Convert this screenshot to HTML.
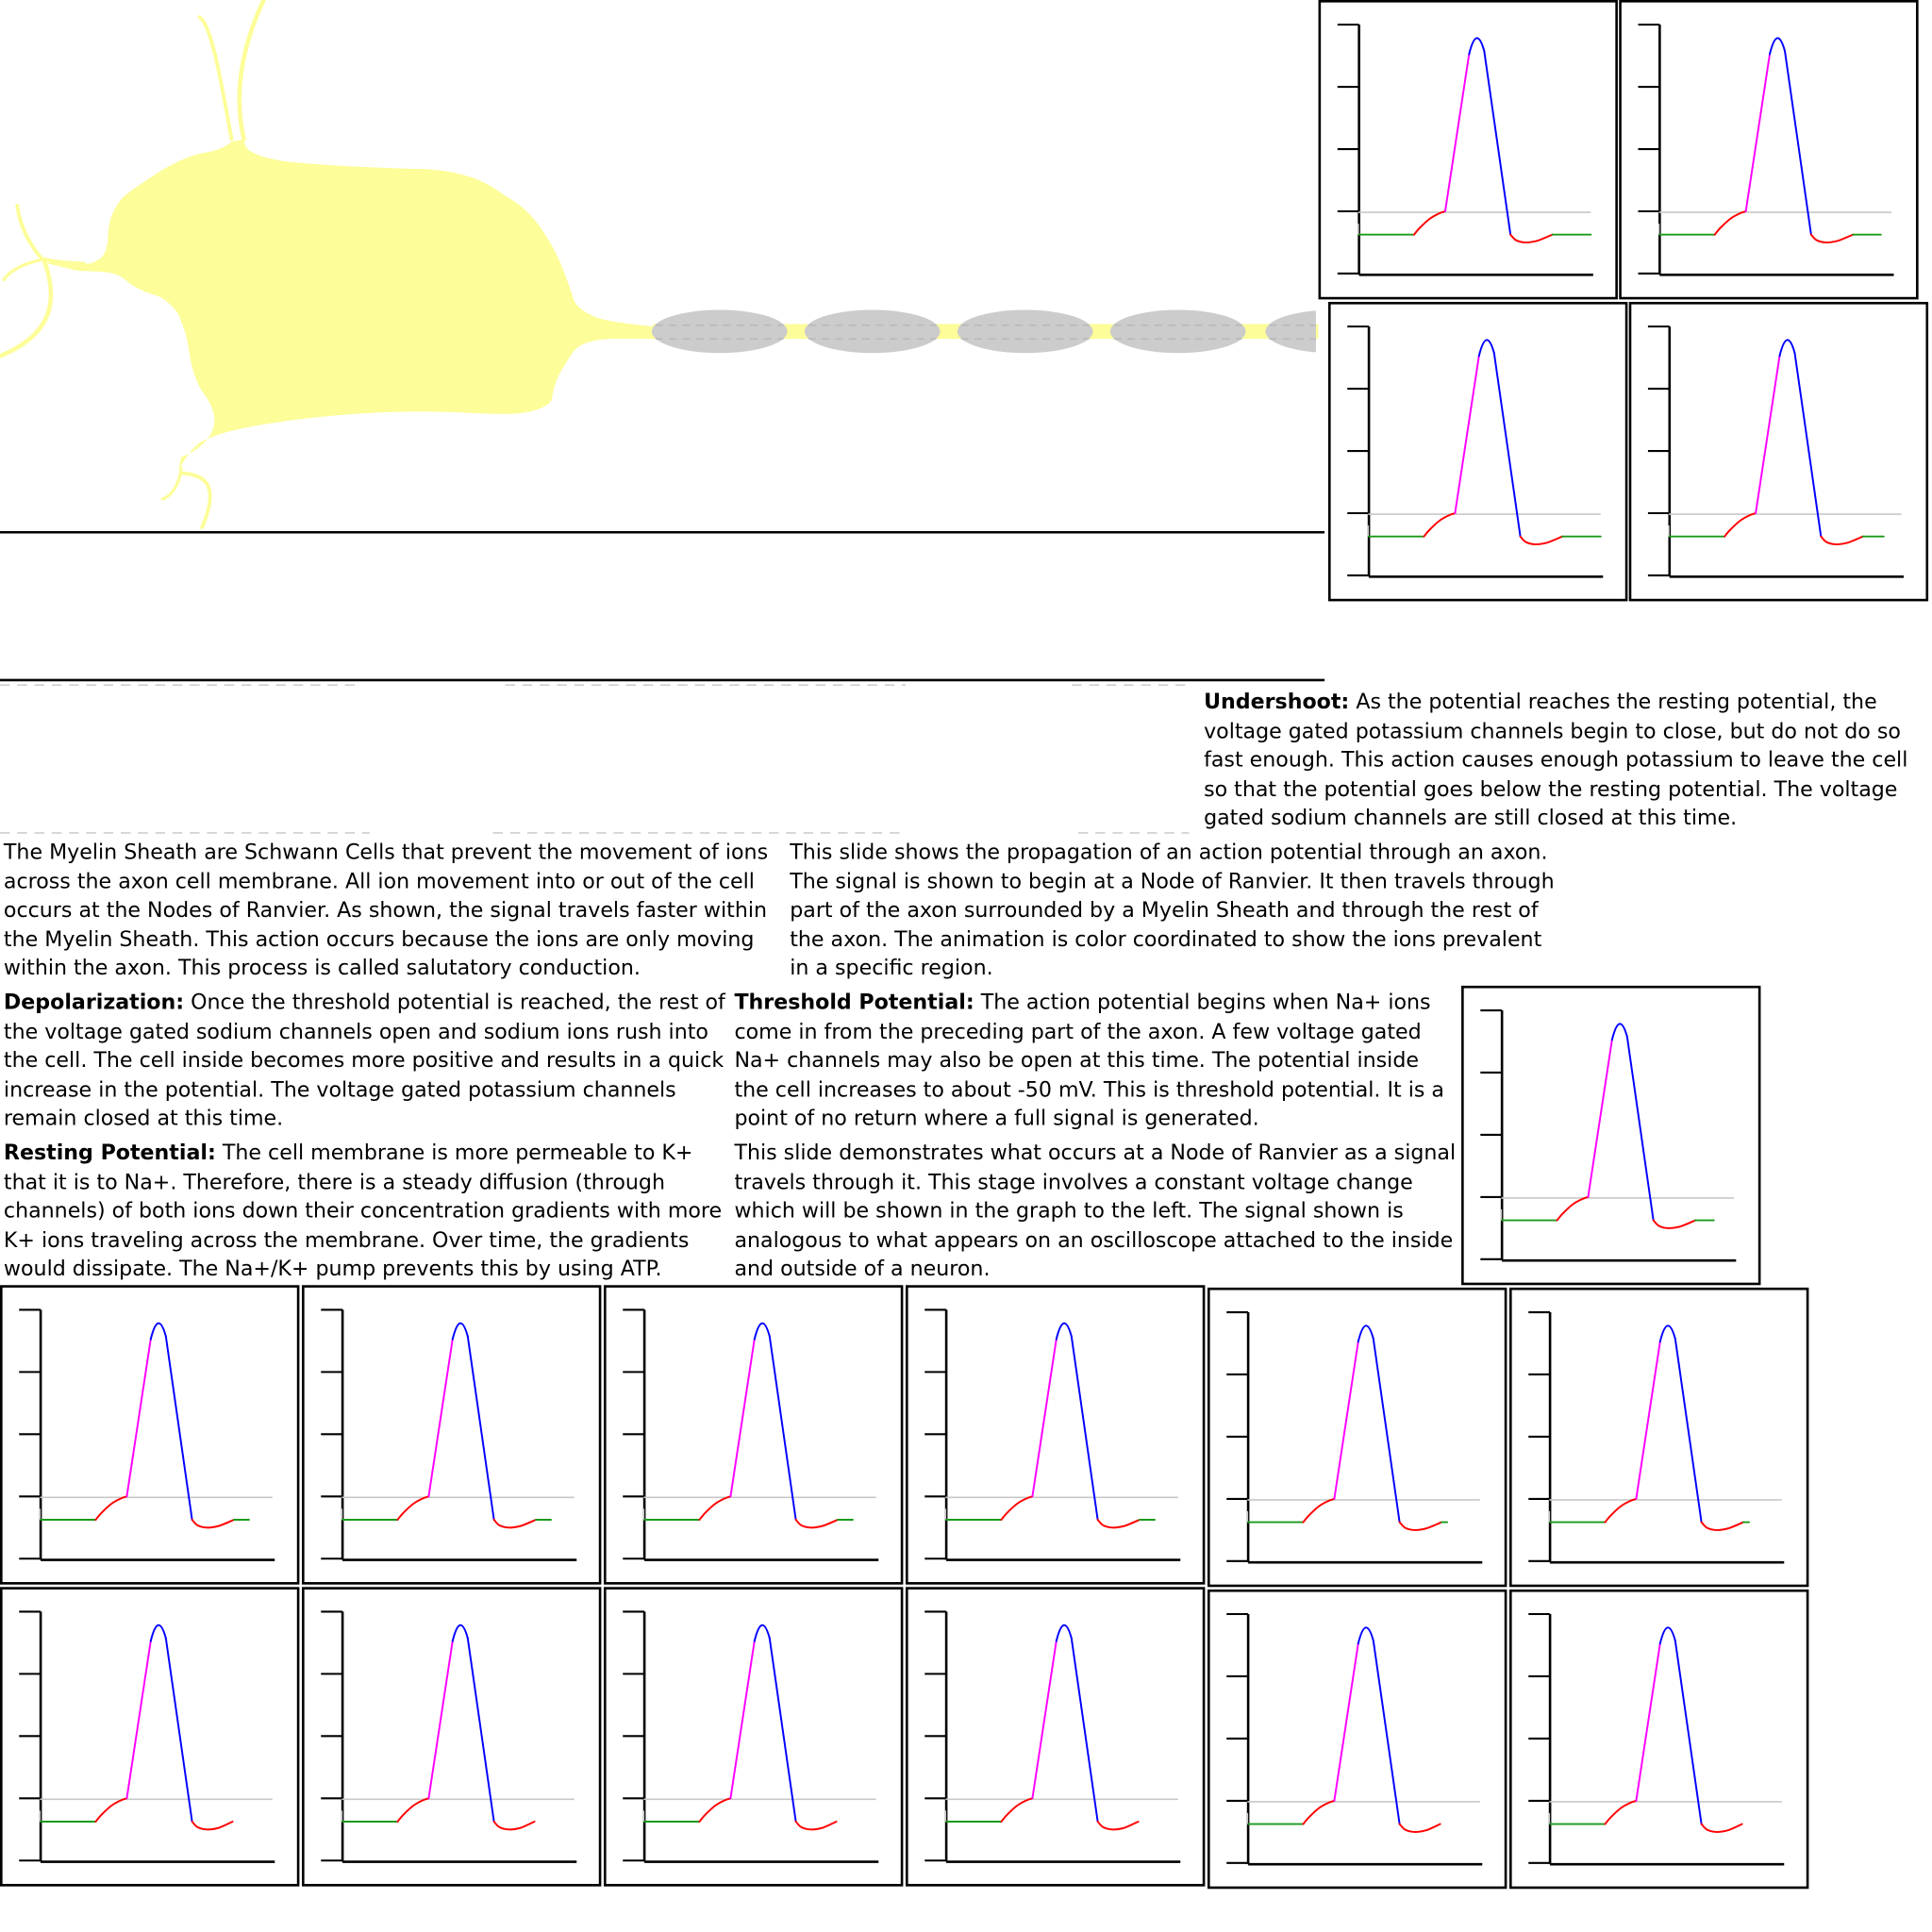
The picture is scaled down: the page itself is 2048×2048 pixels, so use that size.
<!DOCTYPE html>
<html><head><meta charset="utf-8">
<style>
html,body{margin:0;padding:0;background:#fff;}
body{width:2048px;height:2048px;overflow:hidden;position:relative;}
#stage{position:absolute;left:0;top:0;width:1568px;height:1568px;transform:scale(1.30612);transform-origin:0 0;}
.txt{position:absolute;font-family:"DejaVu Sans","Liberation Sans",sans-serif;font-size:16.95px;line-height:23.5px;color:#000;white-space:nowrap;}
.txt b{font-weight:bold;}
svg{position:absolute;left:0;top:0;}
</style></head>
<body>
<div id="stage">
<svg id="art" width="1568" height="1568" viewBox="0 0 1568 1568">
  <g fill="#fdfd99" stroke="none">
    <path d="M188,115 C180,122 170,123 161,125 C150,128 140,133 130,139 C115,149 104,156 99,161 C92,170 90,176 89,181 C87,190 88,198 87,198 C86,205 83,210 79,211 C75,214 72,214 68,214 C58,214 48,214 41,211 L39,214 C50,216 60,220 68,220 C80,220 88,221 92,222 C97,223 100,226 103,228 C112,236 122,238 130,241 C140,247 146,255 147,261 C152,272 153,282 154,289 C157,305 162,316 168,323 C172,330 174,336 174,340 C174,348 171,353 168,357 C160,366 150,370 147,371 L145,382 C150,372 155,365 161,360 C175,352 190,349 205,346 C250,338 300,334 342,334 C370,334 390,336 410,336 C430,336 445,331 448,324 C450,310 454,303 458,297 C463,288 467,282 472,280 C480,276 490,275 499,275 L536,275 L536,265 L530,265 C510,263 495,261 485,258 C472,253 466,247 465,241 C458,220 452,205 444,193 C435,178 425,167 410,159 C398,150 388,145 376,142 C362,138 348,137 335,137 C300,136 260,134 232,131 C218,129 208,126 202,122 C199,119 198,116 198,113 Z"/>
  </g>
  <g fill="none" stroke="#fdfd99" stroke-linecap="round">
    <path d="M162,14 C172,20 180,70 188,113" stroke-width="3"/>
    <path d="M214,0 C200,30 188,70 198,113" stroke-width="3.5"/>
    <path d="M14,167 C16,182 22,196 34,210 C50,214 60,213 68,214" stroke-width="3"/>
    <path d="M36,212 C46,240 46,270 0,289" stroke-width="3.5"/>
    <path d="M33,211 C18,214 8,220 3,227" stroke-width="2.5"/>
    <path d="M147,380 C146,392 140,402 132,405" stroke-width="2.5"/>
    <path d="M147,384 C168,385 178,395 164,428" stroke-width="3"/>
  </g>
  <rect x="530" y="263" width="540" height="12" fill="#fdfd99"/>
  <g id="sheaths"></g>
  <line x1="0" y1="432" x2="1075" y2="432" stroke="#000" stroke-width="2"/>
  <line x1="0" y1="552" x2="1075" y2="552" stroke="#000" stroke-width="2"/>
  <g stroke="#cfcfcf" stroke-width="1.3" stroke-dasharray="8,6">
    <line x1="0" y1="556" x2="290" y2="556"/>
    <line x1="410" y1="556" x2="735" y2="556"/>
    <line x1="870" y1="556" x2="965" y2="556"/>
    <line x1="0" y1="676" x2="300" y2="676"/>
    <line x1="400" y1="676" x2="735" y2="676"/>
    <line x1="875" y1="676" x2="965" y2="676"/>
  </g>
  <g id="panels"></g>
</svg>

<div class="txt" style="left:977px;top:558px;"><b>Undershoot:</b> As the potential reaches the resting potential, the<br>voltage gated potassium channels begin to close, but do not do so<br>fast enough. This action causes enough potassium to leave the cell<br>so that the potential goes below the resting potential. The voltage<br>gated sodium channels are still closed at this time.</div>

<div class="txt" style="left:3px;top:680px;">The Myelin Sheath are Schwann Cells that prevent the movement of ions<br>across the axon cell membrane. All ion movement into or out of the cell<br>occurs at the Nodes of Ranvier. As shown, the signal travels faster within<br>the Myelin Sheath. This action occurs because the ions are only moving<br>within the axon. This process is called salutatory conduction.</div>

<div class="txt" style="left:641px;top:680px;">This slide shows the propagation of an action potential through an axon.<br>The signal is shown to begin at a Node of Ranvier. It then travels through<br>part of the axon surrounded by a Myelin Sheath and through the rest of<br>the axon. The animation is color coordinated to show the ions prevalent<br>in a specific region.</div>

<div class="txt" style="left:3px;top:802px;"><b>Depolarization:</b> Once the threshold potential is reached, the rest of<br>the voltage gated sodium channels open and sodium ions rush into<br>the cell. The cell inside becomes more positive and results in a quick<br>increase in the potential. The voltage gated potassium channels<br>remain closed at this time.</div>

<div class="txt" style="left:596px;top:802px;"><b>Threshold Potential:</b> The action potential begins when Na+ ions<br>come in from the preceding part of the axon. A few voltage gated<br>Na+ channels may also be open at this time. The potential inside<br>the cell increases to about -50 mV. This is threshold potential. It is a<br>point of no return where a full signal is generated.</div>

<div class="txt" style="left:3px;top:924px;"><b>Resting Potential:</b> The cell membrane is more permeable to K+<br>that it is to Na+. Therefore, there is a steady diffusion (through<br>channels) of both ions down their concentration gradients with more<br>K+ ions traveling across the membrane. Over time, the gradients<br>would dissipate. The Na+/K+ pump prevents this by using ATP.</div>

<div class="txt" style="left:596px;top:924px;">This slide demonstrates what occurs at a Node of Ranvier as a signal<br>travels through it. This stage involves a constant voltage change<br>which will be shown in the graph to the left. The signal shown is<br>analogous to what appears on an oscilloscope attached to the inside<br>and outside of a neuron.</div>
</div>

<script>
// Waveform data (time units, membrane potential mV)
const yTicks = [-100, -60, -20, 20, 60];
const thresholdV = -60;
const restingV = -75;
const restT = [0, 23.5];
const riseT = [23.5, 26, 30, 34, 36.8];
const riseV = [-75, -70.5, -65, -61.5, -60];
const upT = [36.8, 47];
const upV = [-60, 41];
const peakT = [47, 50.2, 53.5];
const peakV = [41, 60.6, 43];
const downT = [53.5, 64.7];
const downV = [43, -75];
const underT = [64.7, 67, 71, 76, 82.6];
const underV = [-75, -78.5, -80, -79, -75];
const recoverEndT = [99, 94.5, 99, 91.5, 90.5, 89, 89, 89, 89, 85, 85, 0, 0, 0, 0, 0, 0];
const underEndT = [82.6, 82.6, 82.6, 82.6, 82.6, 82.6, 82.6, 82.6, 82.6, 82.6, 82.6, 82, 82, 82, 82, 82, 82];
const panelX = [1070, 1314, 1078, 1322, 1186, 0, 245, 490, 735, 980, 1225, 0, 245, 490, 735, 980, 1225];
const panelY = [0, 0, 245, 245, 800, 1043, 1043, 1043, 1043, 1045, 1045, 1288, 1288, 1288, 1288, 1290, 1290];
const sheathX = [584, 708, 832, 956, 1082];

const NS = 'http://www.w3.org/2000/svg';
function mk(tag, attrs, parent){
  const e = document.createElementNS(NS, tag);
  for (const k in attrs) e.setAttribute(k, attrs[k]);
  parent.appendChild(e);
  return e;
}
const sh = document.getElementById('sheaths');
const clipDef = mk('clipPath', {id:'axclip'}, sh);
mk('rect', {x:0, y:0, width:1068, height:600}, clipDef);
sheathX.forEach((cx, i) => {
  const g = mk('g', {'clip-path':'url(#axclip)'}, sh);
  
  
  mk('ellipse', {cx:cx, cy:269, rx:55, ry:17.5, fill:'#cccccc'}, g);
  mk('line', {x1:cx-52, y1:264, x2:cx+52, y2:264, stroke:'#b0b0b0', 'stroke-width':0.8, 'stroke-dasharray':'6,5'}, g);
  mk('line', {x1:cx-52, y1:275, x2:cx+52, y2:275, stroke:'#b0b0b0', 'stroke-width':0.8, 'stroke-dasharray':'6,5'}, g);
});

const xs = t => 33 + t * 1.9;
const ys = v => 222 - (v + 100) * 202 / 160;
function linePath(T, V){
  return T.map((t, i) => (i ? 'L' : 'M') + xs(t).toFixed(1) + ',' + ys(V[i]).toFixed(1)).join(' ');
}
function quadPath(T, V){
  return 'M' + xs(T[0]).toFixed(1) + ',' + ys(V[0]).toFixed(1) + ' Q' + xs(T[1]).toFixed(1) + ',' + ys(V[1]).toFixed(1) + ' ' + xs(T[2]).toFixed(1) + ',' + ys(V[2]).toFixed(1);
}
function smoothPath(T, V){
  const p = T.map((t, i) => [xs(t), ys(V[i])]);
  let d = 'M' + p[0][0].toFixed(1) + ',' + p[0][1].toFixed(1);
  for (let i = 0; i < p.length - 1; i++){
    const p0 = p[Math.max(0, i-1)], p1 = p[i], p2 = p[i+1], p3 = p[Math.min(p.length-1, i+2)];
    const c1 = [p1[0] + (p2[0]-p0[0])/6, p1[1] + (p2[1]-p0[1])/6];
    const c2 = [p2[0] - (p3[0]-p1[0])/6, p2[1] - (p3[1]-p1[1])/6];
    d += ' C' + c1.map(n=>n.toFixed(1)).join(',') + ' ' + c2.map(n=>n.toFixed(1)).join(',') + ' ' + p2[0].toFixed(1) + ',' + p2[1].toFixed(1);
  }
  return d;
}

const panels = document.getElementById('panels');
panelX.forEach((px, i) => {
  const g = mk('g', {transform:'translate(' + px + ',' + panelY[i] + ')'}, panels);
  
  
  mk('rect', {x:1, y:1, width:241, height:241, fill:'#fff', stroke:'#000', 'stroke-width':2}, g);
  const yAxis = mk('line', {x1:33, y1:ys(yTicks[yTicks.length-1]), x2:33, y2:223, stroke:'#000', 'stroke-width':2}, g);
  
  
  const xAxis = mk('line', {x1:33, y1:223, x2:223, y2:223, stroke:'#000', 'stroke-width':2}, g);
  
  
  yTicks.forEach(v => {
    const tk = mk('line', {x1:15.5, y1:ys(v), x2:33, y2:ys(v), stroke:'#000', 'stroke-width':1.6}, g);
    
    
  });
  const th = mk('line', {x1:xs(-0.3), y1:ys(thresholdV)+0.8, x2:xs(99), y2:ys(thresholdV)+0.8, stroke:'#c8c8c8', 'stroke-width':1.2}, g);
  
  
  mk('line', {x1:32.5, y1:ys(restingV)-9, x2:32.5, y2:ys(restingV), stroke:'#c8c8c8', 'stroke-width':1}, g);
  const common = {fill:'none', 'stroke-width':1.5, 'stroke-linecap':'round', 'stroke-linejoin':'round'};
  const rest = mk('path', Object.assign({d:linePath(restT, [restingV, restingV]), stroke:'#1a9a1a'}, common), g);
  
  
  const rise = mk('path', Object.assign({d:smoothPath(riseT, riseV), stroke:'#ff0000'}, common), g);
  
  
  const up = mk('path', Object.assign({d:linePath(upT, upV), stroke:'#ff00ff'}, common), g);
  
  
  const peak = mk('path', Object.assign({d:quadPath(peakT, peakV), stroke:'#0000ff'}, common), g);
  
  
  const down = mk('path', Object.assign({d:linePath(downT, downV), stroke:'#0000ff'}, common), g);
  
  
  const uT = underT.slice(0, -1).concat([underEndT[i]]);
  const under = mk('path', Object.assign({d:smoothPath(uT, underV), stroke:'#ff0000'}, common), g);
  
  
  if (recoverEndT[i] > underEndT[i]) {
    const rec = mk('path', Object.assign({d:linePath([underEndT[i], recoverEndT[i]], [restingV, restingV]), stroke:'#1a9a1a'}, common), g);
    
    
  }
});
</script>
</body></html>
